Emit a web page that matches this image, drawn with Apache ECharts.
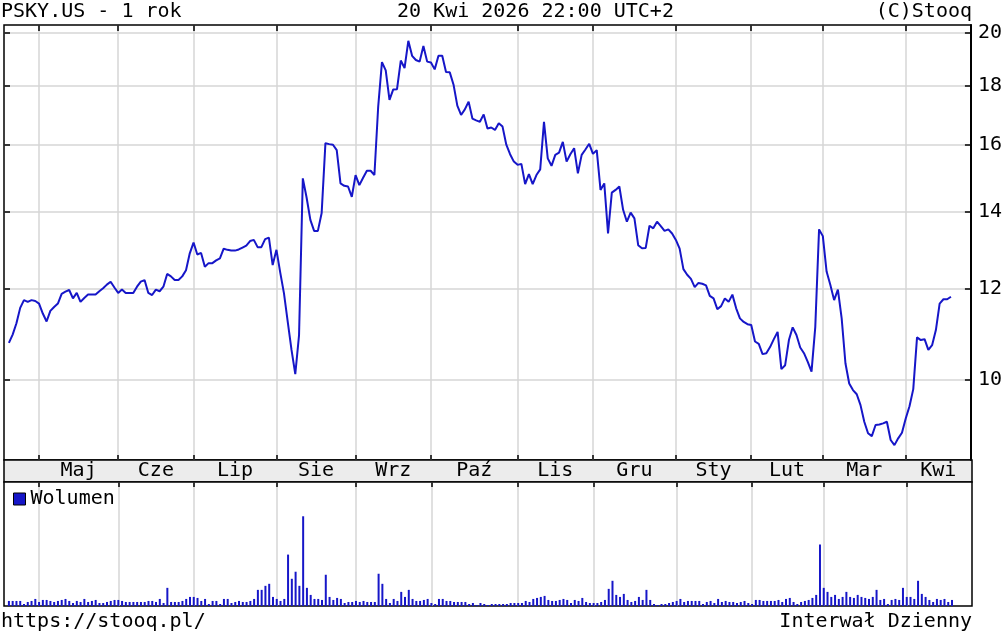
<!DOCTYPE html>
<html>
<head>
<meta charset="utf-8">
<script src="https://cdn.jsdelivr.net/npm/echarts@6/dist/echarts.min.js"></script>
<style>
html,body{margin:0;padding:0;background:#fff;}
#chart{width:1005px;height:637px;}
</style>
</head>
<body>
<div id="chart"></div>
<script>
// Daily closing prices (USD), trading days 21 Apr 2025 .. 20 Apr 2026
const prices = [
10.77,10.95,11.20,11.55,11.73,11.69,11.73,11.71,11.65,11.42,
11.24,11.48,11.57,11.65,11.88,11.93,11.97,11.77,11.90,11.69,
11.78,11.86,11.86,11.86,11.94,12.01,12.10,12.17,12.03,11.90,
11.98,11.90,11.90,11.90,12.05,12.17,12.21,11.90,11.85,11.98,
11.94,12.05,12.36,12.30,12.21,12.21,12.30,12.45,12.88,13.16,
12.85,12.89,12.54,12.63,12.63,12.70,12.75,13.00,12.97,12.95,
12.95,12.98,13.03,13.08,13.20,13.23,13.04,13.04,13.25,13.29,
12.58,12.97,12.40,11.89,11.23,10.62,10.12,10.94,14.96,14.40,
13.77,13.47,13.47,13.96,16.05,16.02,16.00,15.83,14.81,14.74,
14.72,14.42,15.06,14.76,14.98,15.19,15.19,15.06,17.26,18.87,
18.56,17.50,17.87,17.88,18.93,18.65,19.69,19.11,18.95,18.89,
19.49,18.89,18.86,18.60,19.11,19.11,18.50,18.49,18.04,17.30,
16.98,17.17,17.44,16.86,16.80,16.75,17.00,16.53,16.56,16.48,
16.70,16.59,16.00,15.70,15.47,15.37,15.40,14.79,15.09,14.79,
15.06,15.23,16.75,15.57,15.34,15.68,15.75,16.09,15.47,15.70,
15.89,15.11,15.68,15.85,16.03,15.71,15.83,14.62,14.81,13.40,
14.54,14.62,14.72,14.05,13.72,13.97,13.81,13.09,13.01,13.02,
13.61,13.54,13.72,13.60,13.47,13.51,13.40,13.23,13.00,12.48,
12.34,12.24,12.04,12.14,12.12,12.08,11.83,11.77,11.52,11.59,
11.77,11.69,11.86,11.54,11.31,11.23,11.18,11.16,10.80,10.75,
10.53,10.55,10.68,10.85,11.01,10.22,10.30,10.83,11.11,10.94,
10.67,10.55,10.37,10.17,11.12,13.51,13.33,12.42,12.09,11.73,
11.98,11.31,10.34,9.93,9.80,9.72,9.51,9.20,8.99,8.94,
9.14,9.15,9.17,9.20,8.87,8.78,8.90,9.00,9.26,9.49,
9.82,10.89,10.83,10.85,10.62,10.72,11.05,11.65,11.75,11.75,
11.81
];
// Daily volume (relative units)
const volume = [
5,5,5,5,2,4,5,7,4,6,
6,5,4,5,6,7,5,3,5,4,
7,4,5,6,3,3,4,5,6,6,
5,4,4,4,4,4,4,5,5,4,
7,3,18,4,4,4,5,7,9,9,
8,5,7,2,5,5,2,7,7,3,
4,5,4,4,5,7,16,16,20,22,
9,7,5,7,51,27,34,20,89,18,
11,7,7,6,31,9,6,8,7,3,
4,4,5,4,5,4,4,4,32,22,
7,3,7,5,14,9,16,7,5,5,
6,7,3,2,7,7,5,5,4,4,
4,4,2,3,1,3,2,1,2,2,
2,2,2,3,3,3,3,5,4,7,
8,9,10,6,5,5,6,7,6,3,
6,5,8,4,3,3,3,4,6,17,
25,11,9,12,6,4,5,9,6,16,
6,2,1,2,2,3,4,5,7,4,
5,5,5,5,2,4,5,3,7,4,
5,4,4,3,4,5,3,2,6,6,
5,5,5,5,6,4,7,8,4,2,
4,5,6,8,11,61,18,14,9,11,
7,9,14,9,8,11,9,8,7,9,
16,6,7,2,6,7,6,18,9,9,
7,25,12,9,6,4,7,6,7,4,
6
];
const monthNames = ['Maj','Cze','Lip','Sie','Wrz','Paź','Lis','Gru','Sty','Lut','Mar','Kwi'];
const monthStarts = [8,29,49,71,92,112,135,155,177,197,216,238];
const priceTicks = [10,12,14,16,18,20];

const X_MIN = -1.3, X_MAX = 255.3;
const monthMids = monthStarts.map((s,k)=> k < monthStarts.length-1 ? (s + monthStarts[k+1]) / 2 : (s + X_MAX) / 2);

const FONT = "'DejaVu Sans Mono', monospace";
const BLUE = '#1616c8';
const GRIDC = '#d6d6d6';
const TXT = {fontFamily:FONT,fontSize:20,fontWeight:'normal',color:'#000'};

const chart = echarts.init(document.getElementById('chart'));
const baseX = {type:'value', min:X_MIN, max:X_MAX};
chart.setOption({
  animation:false,
  backgroundColor:'#fff',
  textStyle:{fontFamily:FONT},
  title:[
    {text:'PSKY.US - 1 rok', left:1, top:2, padding:0, textStyle:TXT},
    {text:'20 Kwi 2026 22:00 UTC+2', left:397, top:2, padding:0, textStyle:TXT},
    {text:'(C)Stooq', right:33, top:2, padding:0, textStyle:TXT},
    {text:'https://stooq.pl/', left:1, top:612, padding:0, textStyle:TXT},
    {text:'Interwał Dzienny', right:33, top:612, padding:0, textStyle:TXT}
  ],
  legend:{
    data:['Wolumen'], left:13, top:489, padding:0, icon:'rect', itemWidth:12, itemHeight:12,
    itemStyle:{borderColor:'#000',borderWidth:1},
    textStyle:{fontFamily:FONT,fontSize:20,color:'#000'}
  },
  grid:[
    {left:4, right:33, top:25, bottom:177, show:true, borderColor:'#000', borderWidth:1.5, backgroundColor:'#fff'},
    {left:4, right:33, top:460, bottom:155, show:true, borderColor:'#000', borderWidth:1.5, backgroundColor:'#ececec'},
    {left:4, right:33, top:482, bottom:31, show:true, borderColor:'#000', borderWidth:1.5, backgroundColor:'#fff'}
  ],
  xAxis:[
    Object.assign({}, baseX, {gridIndex:0, position:'bottom',
      axisLine:{show:false, onZero:false},
      axisTick:{show:true, inside:true, length:5, lineStyle:{color:'#000',width:1.5}, customValues:monthStarts},
      splitLine:{show:true, lineStyle:{color:GRIDC,width:1.5}},
      axisLabel:{show:true, customValues:monthMids, margin:11, verticalAlign:'middle', fontFamily:FONT, fontSize:20, color:'#000',
        formatter:function(v){ let best=0; for(let k=0;k<monthMids.length;k++){ if(Math.abs(monthMids[k]-v)<Math.abs(monthMids[best]-v)) best=k; } return monthNames[best]; }}
    }),
    Object.assign({}, baseX, {gridIndex:0, position:'top',
      axisLine:{show:false, onZero:false},
      axisTick:{show:true, inside:true, length:6, lineStyle:{color:'#000',width:1.5}, customValues:monthStarts},
      splitLine:{show:false}, axisLabel:{show:false}
    }),
    Object.assign({}, baseX, {gridIndex:1, show:false}),
    Object.assign({}, baseX, {gridIndex:2, position:'top',
      axisLine:{show:false, onZero:false},
      axisTick:{show:true, inside:true, length:5, lineStyle:{color:'#000',width:1.5}, customValues:monthStarts},
      splitLine:{show:true, lineStyle:{color:GRIDC,width:1.5}},
      axisLabel:{show:false}
    })
  ],
  yAxis:[
    {type:'log', gridIndex:0, position:'right', min:8.523, max:20.324,
      axisLine:{show:true, onZero:false, lineStyle:{color:'#000',width:2}},
      axisTick:{show:true, inside:true, length:6, lineStyle:{color:'#000',width:1.5}, customValues:priceTicks},
      splitLine:{show:true, lineStyle:{color:GRIDC,width:1.5}},
      axisLabel:{show:true, customValues:priceTicks, margin:7, fontFamily:FONT, fontSize:20, color:'#000'}
    },
    {type:'log', gridIndex:0, position:'left', min:8.523, max:20.324,
      axisLine:{show:false, onZero:false},
      axisTick:{show:true, inside:true, length:6, lineStyle:{color:'#000',width:1.5}, customValues:priceTicks},
      splitLine:{show:false}, axisLabel:{show:false}
    },
    {type:'value', gridIndex:1, show:false, min:0, max:1},
    {type:'value', gridIndex:2, min:0, max:123, show:false, splitLine:{show:false}}
  ],
  series:[
    {type:'line', name:'PSKY.US', xAxisIndex:0, yAxisIndex:0, showSymbol:false, symbol:'none',
      data:prices.map((v,i)=>[i,v]), lineStyle:{color:BLUE,width:2}, itemStyle:{color:BLUE}},
    {type:'bar', name:'Wolumen', xAxisIndex:3, yAxisIndex:3, barWidth:2,
      data:volume.map((v,i)=>[i,v]), itemStyle:{color:BLUE}}
  ]
});
</script>
</body>
</html>
